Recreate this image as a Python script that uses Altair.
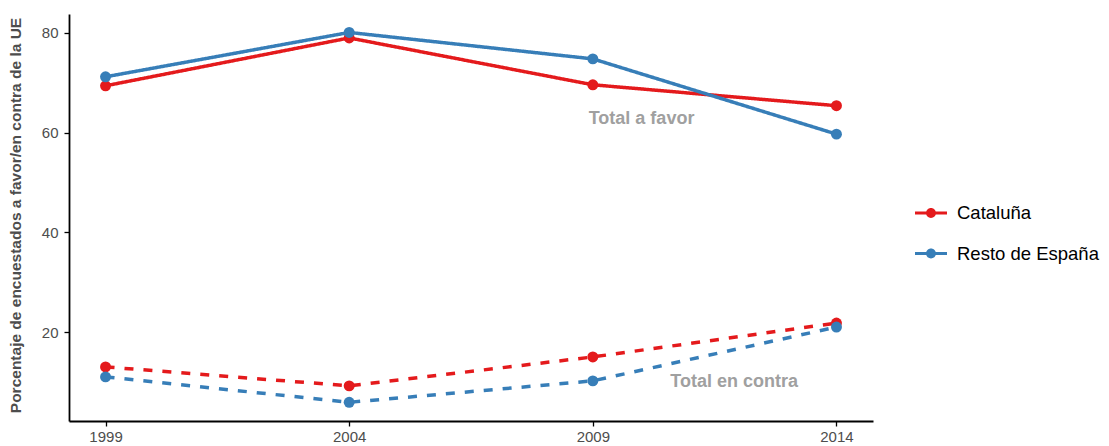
import altair as alt
import pandas as pd

years = [1999, 2004, 2009, 2014]
regions = ["Cataluña", "Resto de España"]
cat_favor = [69.4, 79.0, 69.6, 65.4]
resto_favor = [71.2, 80.1, 74.8, 59.7]
cat_contra = [13.0, 9.2, 15.0, 21.8]
resto_contra = [11.0, 5.9, 10.2, 21.0]
tipos = ["favor", "contra"]
ann_text = ["Total a favor", "Total en contra"]
ann_x = [2010.0, 2011.9]
ann_y = [62.7, 10.0]
y_ticks = [20, 40, 60, 80]

rows = []
for region, tipo, vals in [
    (regions[0], tipos[0], cat_favor),
    (regions[1], tipos[0], resto_favor),
    (regions[0], tipos[1], cat_contra),
    (regions[1], tipos[1], resto_contra),
]:
    for yr, v in zip(years, vals):
        rows.append({"year": yr, "value": v, "region": region, "tipo": tipo})
df = pd.DataFrame(rows)
ann = pd.DataFrame({"text": ann_text, "x": ann_x, "y": ann_y})

colors = ["#E41A1C", "#377EB8"]
FONT = "Liberation Sans"
xscale = alt.Scale(domain=[1998.25, 2014.75], nice=False, zero=False)
yscale = alt.Scale(domain=[2.15, 83.8], nice=False, zero=False)

xax = alt.X("year:Q", scale=xscale,
            axis=alt.Axis(values=years, format="d", title=None, grid=False,
                          labelFontSize=15, labelColor="#4D4D4D", labelPadding=3,
                          tickSize=5, tickColor="#000", domainColor="#000",
                          domainWidth=1.8, tickWidth=1.3, labelFont=FONT))
yax = alt.Y("value:Q", scale=yscale,
            axis=alt.Axis(values=y_ticks, title="Porcentaje de encuestados a favor/en contra de la UE",
                          grid=False, labelFontSize=15, labelColor="#4D4D4D", labelPadding=6,
                          tickSize=5, tickColor="#000", domainColor="#000",
                          domainWidth=1.8, tickWidth=1.3, labelFont=FONT,
                          titleFont=FONT, titleFontSize=15.5, titleFontWeight="bold",
                          titleColor="#4D4D4D", titleAngle=-90, titleX=-54, titleY=201,
                          titleBaseline="middle", titleAlign="center"))

lines = alt.Chart(df).mark_line(strokeWidth=3.5, strokeCap="butt").encode(
    x=xax, y=yax,
    color=alt.Color("region:N", scale=alt.Scale(domain=regions, range=colors), legend=None),
    strokeDash=alt.StrokeDash("tipo:N", scale=alt.Scale(domain=tipos, range=[[1, 0], [9, 10]]), legend=None),
    detail="tipo:N",
)

legend_path = ("M-1,-0.095L1,-0.095L1,0.095L-1,0.095Z "
               "M0,-0.31A0.31,0.31 0 1,1 0,0.31A0.31,0.31 0 1,1 0,-0.31Z")

points = alt.Chart(df).mark_point(filled=True, size=120, opacity=1).encode(
    x="year:Q", y="value:Q",
    color=alt.Color("region:N", scale=alt.Scale(domain=regions, range=colors),
                    legend=alt.Legend(title=None, orient="none", legendX=846, legendY=183,
                                      symbolType=legend_path, symbolSize=1024,
                                      symbolStrokeWidth=0,
                                      labelFontSize=18.5, labelColor="#000",
                                      labelFont=FONT, labelOffset=10,
                                      rowPadding=14.5, padding=0, symbolOpacity=1)),
)

texts = alt.Chart(ann).mark_text(fontSize=18, fontWeight="bold", color="#A0A0A0",
                                 font=FONT).encode(
    x=alt.X("x:Q", scale=xscale), y=alt.Y("y:Q", scale=yscale), text="text:N")

chart = alt.layer(lines, points, texts).resolve_legend(color="independent").properties(
    width=804, height=407,
    padding={"left": 61, "top": 6, "right": 228, "bottom": 25},
    autosize=alt.AutoSizeParams(type="none"),
).configure_view(stroke=None)

chart.save("out.html", embed_options={"renderer": "svg", "actions": False})
